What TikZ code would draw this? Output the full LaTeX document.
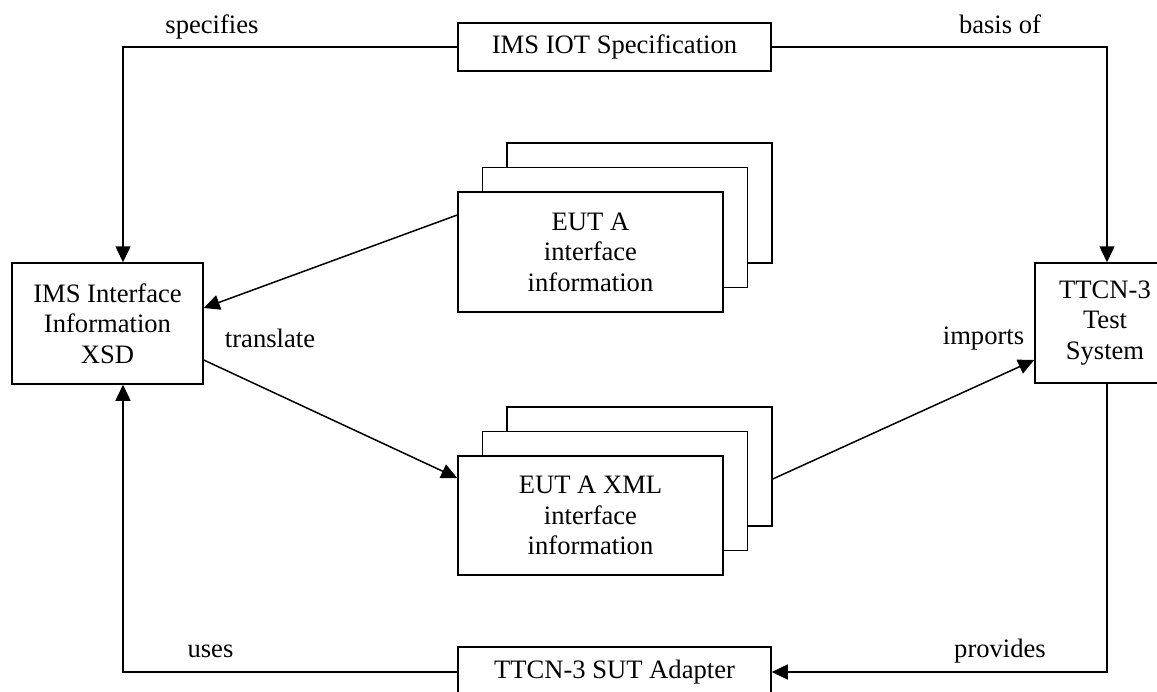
\documentclass[tikz,border=0pt]{standalone}
\usepackage{fontspec}
\setmainfont{Liberation Serif}
\usetikzlibrary{arrows.meta,calc}
\tikzset{
  box/.style={draw=black, line width=1.5pt, fill=white, align=center, inner sep=0pt},
  arr/.style={line width=1.5pt, -{Triangle[length=16pt,width=15pt]}},
  ln/.style={line width=1.5pt},
  lbl/.style={anchor=base, inner sep=0pt}
}
\begin{document}
\begin{tikzpicture}[x=1pt, y=-1pt, font=\fontsize{26.6}{30.6}\selectfont]
\useasboundingbox (0,0) rectangle (1157,691);
\clip (0,0) rectangle (1157,691);
\fill[white] (0,0) rectangle (1157,691);
% main boxes
\node[box, minimum width=313pt, minimum height=48pt] (spec) at (614.5,47) {IMS IOT Specification};
\node[box, minimum width=191pt, minimum height=121pt] (xsd) at (107.5,323.5) {IMS Interface\\Information\\XSD};
\node[box, minimum width=140pt, minimum height=120pt] (ttcn) at (1105,323) {TTCN-3\\Test\\System};
\node[box, minimum width=313pt, minimum height=50pt] (sut) at (614.5,672) {TTCN-3 SUT Adapter};
% first stack
\node[box, minimum width=265pt, minimum height=120pt] (eut1c) at (639.5,203) {};
\node[box, minimum width=265pt, minimum height=120pt] (eut1b) at (615,227.5) {};
\node[box, minimum width=265pt, minimum height=120pt] (eut1) at (590.5,252) {EUT A\\interface\\information};
% second stack
\node[box, minimum width=265pt, minimum height=119pt] (eut2c) at (639.5,466.5) {};
\node[box, minimum width=265pt, minimum height=119pt] (eut2b) at (615,491) {};
\node[box, minimum width=265pt, minimum height=119pt] (eut2) at (590.5,515.5) {EUT A XML\\interface\\information};
% corner coordinates
\coordinate (cl) at (123,47);
\coordinate (cr) at (1107,47);
% connectors
\draw[arr] (spec.west) -- (cl) -- (cl |- xsd.north);
\draw[arr] (spec.east) -- (cr) -- (cr |- ttcn.north);
\draw[arr] (cr |- ttcn.south) -- (cr |- sut.east) -- (sut.east);
\draw[arr] (sut.west) -- (cl |- sut.west) -- (cl |- xsd.south);
\draw[arr] (eut1.west |- 0,215) -- (xsd.east |- 0,308);
\draw[arr] (xsd.east |- 0,360) -- (eut2.west |- 0,478);
\draw[arr] (eut2c.east |- 0,479) -- (ttcn.west |- 0,360);
% labels
\node[lbl] (lspec) at (212,33) {specifies};
\node[lbl] (lbasis) at (1000,33) {basis of};
\node[lbl] (ltrans) at (270,347) {translate};
\node[lbl] (limp) at (983.5,344) {imports};
\node[lbl] (luses) at (210.5,657) {uses};
\node[lbl] (lprov) at (1000,657) {provides};
\end{tikzpicture}
\end{document}
